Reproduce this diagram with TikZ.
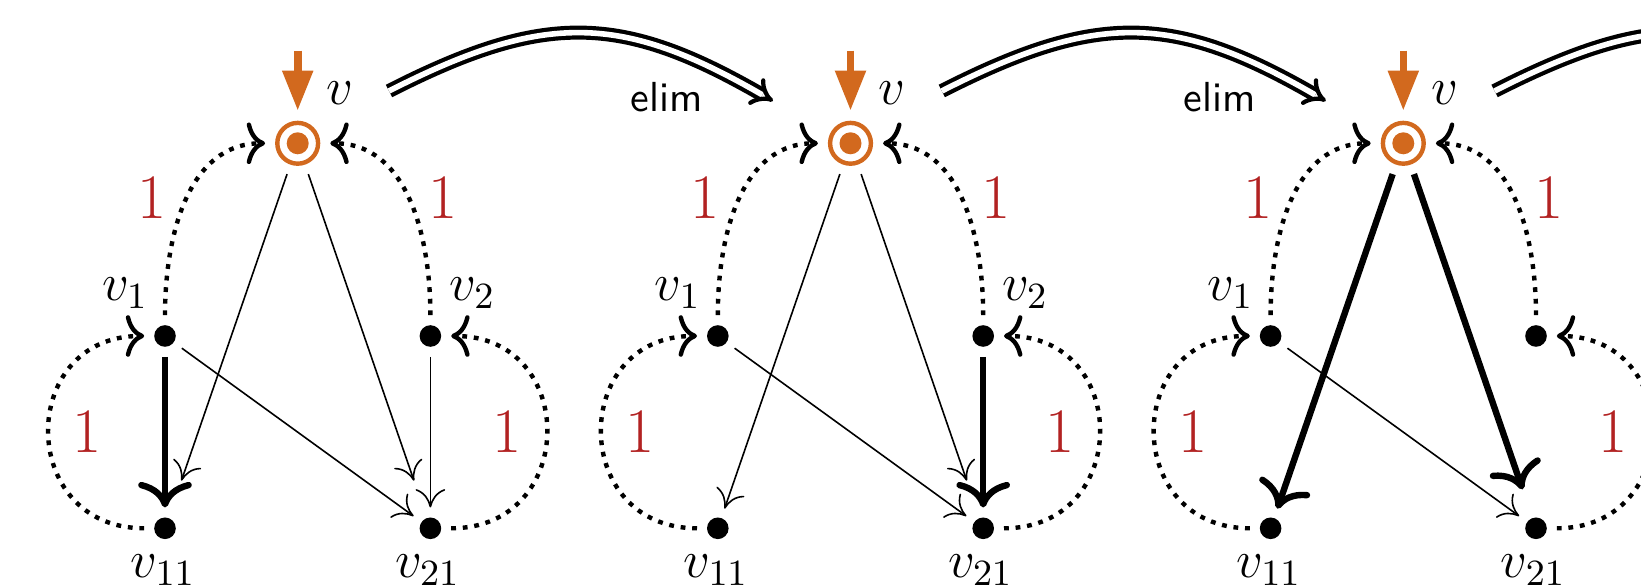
\RequirePackage{fix-cm}
\documentclass[tikz,border=0pt]{standalone}
\usetikzlibrary{arrows.meta}
\definecolor{vorange}{RGB}{210,105,30}
\definecolor{wred}{RGB}{178,34,34}
\tikzset{
  dot/.style={circle, fill=black, inner sep=0pt, minimum size=5.4pt, outer sep=2.5pt},
  src/.style={circle, draw=vorange, line width=1.1pt, inner sep=0pt, minimum size=10.2pt, outer sep=3.05pt},
  srcdot/.style={circle, fill=vorange, inner sep=0pt, minimum size=5.5pt},
  lbl/.style={inner sep=0pt, font=\fontsize{13.2pt}{16pt}\selectfont},
  wlbl/.style={inner sep=0pt, text=wred, font=\fontsize{15.84pt}{19pt}\selectfont},
  elbl/.style={inner sep=0pt, font=\sffamily\fontsize{10.5pt}{12pt}\selectfont},
  thinarr/.style={line width=0.4pt, -{Computer Modern Rightarrow[length=4.6pt, width=7.4pt]}},
  thickarr/.style={line width=1.6pt, -{Computer Modern Rightarrow[length=6.4pt, width=13.4pt]}},
  dotarr/.style={line width=1.1pt, dash pattern=on 1.2pt off 1.7pt, -{Computer Modern Rightarrow[length=4.6pt, width=10.4pt]}},
  srcarr/.style={draw=vorange, line width=1.9pt, -{Triangle[length=10pt, width=7.3pt]}},
  elimarr/.style={double, line width=1.05pt, double distance=1.4pt, -{Implies[length=6pt, width=9pt]}},
}
\begin{document}
\begin{tikzpicture}[x=0.25pt,y=-0.25pt]
\useasboundingbox (0,0) rectangle (1641,587);
\clip (0,0) rectangle (1641,587);
\foreach \p/\dx in {1/0,2/552.8,3/1105.6} {
  \node[src] (s\p) at (297.7+\dx,143.3) {};
  \node[srcdot] (sd\p) at (s\p.center) {};
  \node[dot] (a\p) at (165+\dx,336) {};
  \node[dot] (b\p) at (430.4+\dx,336) {};
  \node[dot] (c\p) at (165+\dx,528.3) {};
  \node[dot] (d\p) at (430.4+\dx,528.3) {};
  \coordinate (st\p) at (297.7+\dx,50.7);
  \draw[srcarr] (st\p) -- (s\p);
  \node[lbl] (sl\p) at (339.5+\dx,93.3) {$v$};
  \node[lbl] (al\p) at (125+\dx,293) {$v_1$};
  \node[lbl] (cl\p) at (163.2+\dx,570) {$v_{11}$};
  \node[lbl] (dl\p) at (427.7+\dx,570) {$v_{21}$};
  \draw[dotarr] (a\p) to[out=90,in=180] (s\p);
  \draw[dotarr] (b\p) to[out=90,in=0] (s\p);
  \draw[dotarr] (c\p) to[out=180,in=180,looseness=1.7] (a\p);
  \draw[dotarr] (d\p) to[out=0,in=0,looseness=1.7] (b\p);
  \node[wlbl] (w1\p) at (152+\dx,198) {1};
  \node[wlbl] (w2\p) at (443+\dx,198) {1};
  \node[wlbl] (w3\p) at (87+\dx,431.7) {1};
  \node[wlbl] (w4\p) at (507+\dx,431.7) {1};
  \coordinate (ea\p) at (389+\dx,91);
  \coordinate (eb\p) at (773+\dx,101);
  \draw[elimarr] (ea\p) .. controls +(-27:175) and +(-150:175) .. (eb\p);
}
\node[lbl] (bl1) at (472.3,293) {$v_2$};
\node[lbl] (bl2) at (472.3+552.8,293) {$v_2$};
\node[elbl] (el1) at (667,97) {elim};
\node[elbl] (el2) at (667+552.8,97) {elim};
% panel 1
\draw[thinarr, shorten >=7.4pt] (s1) -- (c1);
\draw[thinarr, shorten >=7.4pt] (s1) -- (d1);
\draw[thickarr] (a1) -- (c1);
\draw[thinarr] (a1) -- (d1);
\draw[thinarr] (b1) -- (d1);
% panel 2
\draw[thinarr] (s2) -- (c2);
\draw[thinarr, shorten >=7.4pt] (s2) -- (d2);
\draw[thinarr] (a2) -- (d2);
\draw[thickarr] (b2) -- (d2);
% panel 3
\draw[thickarr] (s3) -- (c3);
\draw[thickarr, shorten >=5.1pt] (s3) -- (d3);
\draw[thinarr] (a3) -- (d3);
\end{tikzpicture}
\end{document}
